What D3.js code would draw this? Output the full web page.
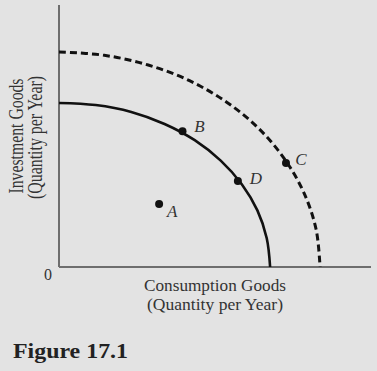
<!DOCTYPE html>
<html><head><meta charset="utf-8">
<script src="https://cdn.jsdelivr.net/npm/d3@7"></script>
<style>
html,body{margin:0;padding:0;background:#e3e3e3;}
svg{display:block;}
text{font-family:"Liberation Serif","Times New Roman",serif;fill:#333;}
</style></head>
<body>
<svg id="c" width="377" height="371"></svg>
<script>
// Data (units)
const ppfOriginal = [[0,6.26],[1.41,6.18],[2.78,5.92],[4.06,5.46],[5.22,4.84],[6.22,4.06],[7.03,3.16],[7.63,2.16],[7.99,1.10],[8.12,0]];
const ppfShifted  = [[0,8.21],[1.74,8.08],[3.43,7.71],[5.02,7.11],[6.45,6.29],[7.69,5.28],[8.69,4.10],[9.43,2.81],[9.89,1.43],[10.04,0]];
const pointNames = ["A","B","C","D"];
const pointX = [3.85, 4.75, 8.73, 6.88];
const pointY = [2.40, 5.18, 3.97, 3.28];
const xTitle = ["Consumption Goods","(Quantity per Year)"];
const yTitle = ["Investment Goods","(Quantity per Year)"];
const originLabel = "0";
const figLabel = "Figure 17.1";

const svg = d3.select("#c");
svg.append("rect").attr("width",377).attr("height",371).attr("fill","#e3e3e3");

const x = d3.scaleLinear().domain([0,12]).range([59,371]);
const y = d3.scaleLinear().domain([0,10]).range([267,5]);

// axes
svg.append("line").attr("x1",x(0)).attr("x2",x(0)).attr("y1",y(10)).attr("y2",y(0))
  .attr("stroke","#6e6e6e").attr("stroke-width",2);
svg.append("line").attr("x1",x(0)).attr("x2",x(12)).attr("y1",y(0)).attr("y2",y(0))
  .attr("stroke","#6e6e6e").attr("stroke-width",2);

const line = d3.line().x(d=>x(d[0])).y(d=>y(d[1])).curve(d3.curveCatmullRom);

svg.append("path").attr("d",line(ppfShifted)).attr("fill","none")
  .attr("stroke","#111").attr("stroke-width",3).attr("stroke-dasharray","7,4");
svg.append("path").attr("d",line(ppfOriginal)).attr("fill","none")
  .attr("stroke","#111").attr("stroke-width",2.6);

const pts = pointNames.map((n,i)=>({n, x:pointX[i], y:pointY[i]}));
const labelOff = {A:[13,7],B:[17,-5],C:[15,-4],D:[18,-3]};
svg.selectAll("circle.p").data(pts).enter().append("circle")
  .attr("cx",d=>x(d.x)).attr("cy",d=>y(d.y)).attr("r",4).attr("fill","#111");
svg.selectAll("text.p").data(pts).enter().append("text")
  .attr("x",d=>x(d.x)+labelOff[d.n][0]).attr("y",d=>y(d.y)+labelOff[d.n][1]+6)
  .attr("text-anchor","middle").attr("font-style","italic").attr("font-size",17)
  .text(d=>d.n);

// origin
svg.append("text").attr("x",48).attr("y",280).attr("text-anchor","middle")
  .attr("font-size",16).text(originLabel);

// x title
xTitle.forEach((t,i)=>{
  svg.append("text").attr("x",215).attr("y",291+i*19).attr("text-anchor","middle")
    .attr("font-size",17).attr("textLength", i===0?142:136).attr("lengthAdjust","spacingAndGlyphs").text(t);
});
// y title
yTitle.forEach((t,i)=>{
  svg.append("text").attr("transform",`translate(${23+i*18.5},${136+i*1.5}) rotate(-90)`)
    .attr("text-anchor","middle").attr("font-size",20)
    .attr("textLength", i===0?115:123).attr("lengthAdjust","spacingAndGlyphs").text(t);
});

svg.append("text").attr("x",13).attr("y",358).attr("font-size",22)
  .attr("font-weight","bold").attr("textLength",115).attr("lengthAdjust","spacingAndGlyphs")
  .style("fill","#222").text(figLabel);
</script>
</body></html>
